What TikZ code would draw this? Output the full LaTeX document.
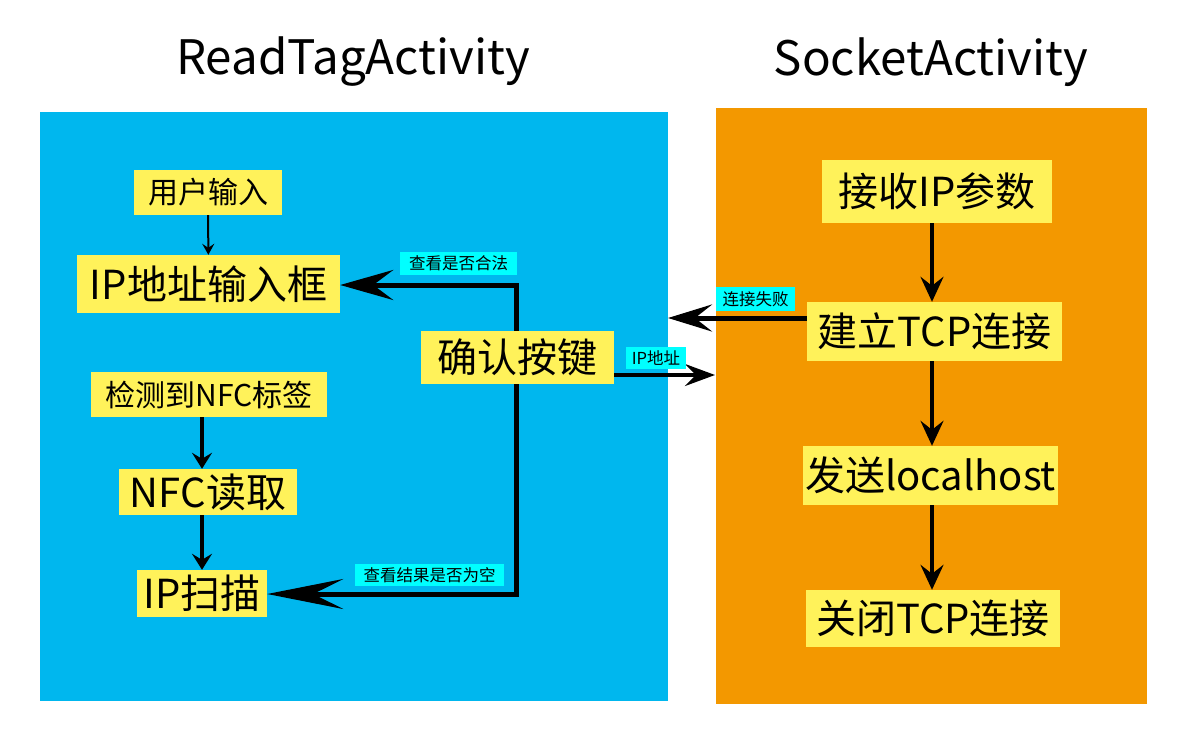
\documentclass[tikz,border=0pt]{standalone}
\usepackage{fontspec}
\setmainfont{Noto Sans CJK SC}
\usetikzlibrary{arrows.meta}
\definecolor{bluebg}{RGB}{0,183,238}
\definecolor{orangebg}{RGB}{243,152,0}
\definecolor{yel}{RGB}{255,242,90}
\definecolor{cyanlab}{RGB}{0,255,255}
\pgfdeclarelayer{bg}
\pgfdeclarelayer{edges}
\pgfsetlayers{bg,edges,main}
\newcommand\fsTitle{\fontsize{47.5}{47.5}\selectfont}
\newcommand\fsBig{\fontsize{40}{40}\selectfont}
\newcommand\fsMid{\fontsize{30}{30}\selectfont}
\newcommand\fsLab{\fontsize{16.5}{16.5}\selectfont}
\tikzset{
  ybox/.style={fill=yel, inner sep=0pt, align=center},
  lab/.style={fill=cyanlab, inner sep=0pt, font=\fsLab},
  thinarr/.style={line width=2pt, -{Stealth[length=11pt,width=12pt,inset=4pt]}},
  midarr/.style={line width=4pt, -{Stealth[length=16pt,width=20pt,inset=6pt]}},
  rarr/.style={line width=3.5pt, -{Stealth[length=25pt,width=23pt,inset=9pt]}},
  bigline/.style={line width=5pt},
}
\begin{document}
\begin{tikzpicture}[x=1pt,y=-1pt]
\useasboundingbox (0,0) rectangle (1200,744);
\begin{pgfonlayer}{bg}
\fill[white] (0,0) rectangle (1200,744);
\fill[bluebg] (40,112) rectangle (668,701);
\fill[orangebg] (716,108) rectangle (1147,704);
\end{pgfonlayer}
% titles
\node[font=\fsTitle] (t1) at (353,62) {ReadTagActivity};
\node[font=\fsTitle] (t2) at (931,62) {SocketActivity};
% left boxes
\node[ybox, minimum width=148pt, minimum height=45pt, font=\fsMid] (u1) at (208,192.5) {用户输入};
\node[ybox, minimum width=263pt, minimum height=58pt, font=\fsBig] (ipbox) at (208.5,284) {IP地址输入框};
\node[ybox, minimum width=236pt, minimum height=45pt, font=\fsMid] (nfc1) at (209,394.5) {检测到NFC标签};
\node[ybox, minimum width=178pt, minimum height=46pt, font=\fsBig] (nfcread) at (208,492) {NFC读取};
\node[ybox, minimum width=130pt, minimum height=47pt, font=\fsBig] (ipscan) at (202,593.5) {IP扫描};
\node[ybox, minimum width=193pt, minimum height=53pt, font=\fsBig] (confirm) at (517.5,357.5) {确认按键};
% right boxes
\node[ybox, minimum width=230pt, minimum height=63pt, font=\fsBig] (recv) at (937,191.5) {接收IP参数};
\node[ybox, minimum width=255pt, minimum height=59pt, font=\fsBig] (tcp) at (934.5,331.5) {建立TCP连接};
\node[ybox, minimum width=255pt, minimum height=59pt, font=\fsBig] (send) at (930.5,475.5) {发送localhost};
\node[ybox, minimum width=254pt, minimum height=57pt, font=\fsBig] (close) at (933,618.5) {关闭TCP连接};
% labels
\node[lab, minimum width=117pt, minimum height=23pt] (l1) at (458.5,263.5) {查看是否合法};
\node[lab, minimum width=149pt, minimum height=22pt] (l2) at (429.5,575) {查看结果是否为空};
\node[lab, minimum width=79pt, minimum height=24pt] (l3) at (755.5,299) {连接失败};
\node[lab, minimum width=60pt, minimum height=22pt] (l4) at (656,358) {IP地址};
% helper coordinates
\coordinate (ctop) at (516,285);
\coordinate (cbot) at (516,594);
\coordinate (fail) at (668,318);
\coordinate (ipend) at (715,375);
\coordinate (rx) at (932,0);
\begin{pgfonlayer}{edges}
\draw[thinarr] (u1) -- (ipbox);
\draw[midarr] (nfc1.south -| ipscan) -- (nfcread.north -| ipscan);
\draw[midarr] (nfcread.south -| ipscan) -- (ipscan);
\draw[rarr] (recv.south -| rx) -- (tcp.north -| rx);
\draw[rarr] (tcp.south -| rx) -- (send.north -| rx);
\draw[rarr] (send.south -| rx) -- (close.north -| rx);
\draw[bigline, -{Stealth[length=53pt,width=30pt,inset=20pt]}] (ctop) -- (ipbox.east |- ctop);
\draw[bigline, -{Stealth[length=76pt,width=30pt,inset=30pt]}] (cbot) -- (ipscan.east |- cbot);
\draw[bigline, line cap=rect] (ctop) -- (cbot);
\draw[bigline, -{Stealth[length=44pt,width=27pt,inset=17pt]}] (tcp.west |- fail) -- (fail);
\draw[line width=4pt, -{Stealth[length=30pt,width=22pt,inset=11pt]}] (confirm.east |- ipend) -- (ipend);
\end{pgfonlayer}
\end{tikzpicture}
\end{document}
